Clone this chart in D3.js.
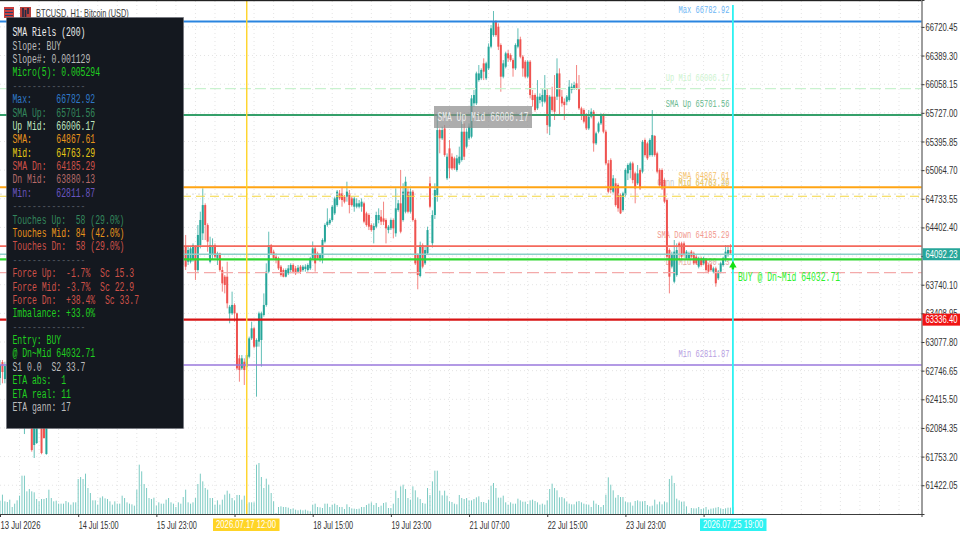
<!DOCTYPE html>
<html>
<head>
<meta charset="utf-8">
<script src="https://cdnjs.cloudflare.com/ajax/libs/d3/7.8.5/d3.min.js"></script>
<style>
html,body{margin:0;padding:0;background:#fff;}
svg{display:block;}
text{white-space:pre;}
</style>
</head>
<body>
<div id="chart"></div>
<script>
//y axis labels, 64071.25 sits behind the bid tag
var priceTicks = [66720.45,66389.30,66058.15,65727.00,65395.85,65064.70,64733.55,64402.40,64071.25,63740.10,63408.95,63077.80,62746.65,62415.50,62084.35,61753.20,61422.05];
//x axis: bar number (hours from 13 Jul 07:00) and the label shown, two are behind the time tags
var timeTickBars = [0,32,64,96,128,160,192,224,256,288];
var timeTickLabels = ["13 Jul 2026","14 Jul 15:00","15 Jul 23:00","","18 Jul 15:00","19 Jul 23:00","21 Jul 07:00","22 Jul 15:00","23 Jul 23:00",""];

//bars that can be seen, the rest sit behind the info panel
var barIndex = [0,1,2,10,13,14,15,17,18,19].concat(d3.range(75,301));
//open, close, high, low
var ohlc = [
[62661,62812,62870,62580],[62846,62731,62870,62600],[62650,62800,62850,62600],
[62150,62300,62400,62014],[62100,61829,62200,61810],[61887,62100,62200,61737],[61910,62100,62200,61900],[62100,61794,62200,61780],[62100,61968,62200,61960],[61783,62100,62200,61775],
[64026,64141,64199,63968],[64180,63949,64315,63910],[64006,64141,64180,63968],[64006,64160,64187,63987],[64026,64199,64218,64006],
[64180,63910,64199,63795],[63910,64315,64430,63891],[64199,64488,64584,64160],[64334,64661,64854,64257],[64661,64430,64681,64257],
[64430,64238,64450,64122],[64006,64199,64295,63987],[64083,64199,64276,64026],[64199,64064,64218,64045],[64045,64103,64122,63968],
[64103,63910,64110,63891],[63910,63756,63949,63660],[63833,63737,63852,63640],[63833,63525,64006,63467],[63409,63486,63506,63294],
[63409,63506,63660,63390],[63506,63409,63525,63313],[63409,62773,63417,62754],[62889,62754,62927,62619],[62773,62889,62927,62754],
[62850,62754,62889,62581],[62793,62927,62947,62773],[62908,63120,63140,62889],[63120,63236,63313,63101],[63236,63024,63255,63005],
[63024,63101,63120,62446],[63082,63409,63429,63024],[63101,63409,63429,62793],[63390,63506,63640,63371],[63506,63891,63987,63486],
[63891,64199,64353,63872],[64199,64103,64211,64083],[64122,64045,64141,64026],[64064,64026,64103,63987],[64045,63929,64064,63910],
[63949,63852,63968,63833],[63910,63833,63929,63825],[63833,63910,63929,63825],[63872,63929,63968,63852],[63910,63968,63987,63872],
[63968,63891,63987,63872],[63929,63872,63956,63852],[63891,63937,63968,63872],[63949,63891,63968,63864],[63910,63949,63968,63891],
[63922,63949,63976,63891],[63910,63968,63987,63891],[63929,64045,64064,63910],[64045,64160,64238,64026],[64160,63987,64180,63891],
[64103,64045,64122,64026],[64045,64083,64103,64006],[64045,64257,64276,63987],[64238,64430,64450,64218],[64430,64469,64623,64411],
[64450,64488,64507,64430],[64488,64642,64661,64469],[64565,64738,64758,64546],[64661,64816,64835,64642],[64796,64738,64835,64719],
[64796,64719,64873,64642],[64758,64700,64777,64681],[64758,64816,64931,64700],[64796,64661,64835,64565],[64738,64661,64758,64642],
[64642,64738,64758,64584],[64642,64681,64738,64623],[64642,64681,64719,64623],[64642,64700,64738,64584],[64681,64469,64700,64450],
[64565,64430,64584,64411],[64546,64411,64565,64372],[64430,64372,64450,64353],[64372,64419,64450,64218],[64411,64546,64584,64392],
[64488,64546,64623,64450],[64527,64469,64604,64430],[64507,64469,64700,64430],[64488,64392,64507,64218],[64372,64411,64430,64334],
[64392,64488,64507,64372],[64488,64392,64507,64276],[64334,64623,64854,64295],[64604,64681,64719,64584],[64681,64353,65066,64334],
[64488,64816,64912,64469],[64584,64931,64989,64565],[64816,64584,64854,64565],[64584,64816,64854,64565],[64816,64488,64835,64469],
[64488,63987,64507,63968],[64083,63852,64103,63687],[63841,64199,64238,63825],[64199,63949,64218,63929],[63987,64141,64199,63968],
[64103,64372,64411,64083],[64912,64642,64989,64623],[64220,64546,64600,64170],[64546,64835,64912,64500],[64777,65528,65700,64700],
[65528,65432,65547,65259],[65432,65528,65567,65413],[65547,65240,65586,65220],[64970,65220,65259,64950],[65316,65085,65413,64970],
[65220,65085,65259,65066],[65201,65085,65220,65066],[65066,65201,65240,65047],[65143,65220,65336,65124],[65182,65509,65625,65163],
[65509,65220,65605,65182],[65336,65509,65547,65316],[65432,65567,65605,65413],[65451,65894,65933,65432],[65837,65933,65991,65798],
[65837,66183,66203,65817],[66106,66183,66280,66087],[66126,66222,66241,66106],[66299,66203,66357,66106],[66126,66299,66318,66106],
[66241,66492,66530,66222],[66492,66704,66742,66473],[66626,66781,66904,66607],[66781,66626,66800,66607],[66723,66492,66761,66453],
[66511,66145,66530,65971],[66145,66299,66337,66126],[66260,66415,66434,66241],[66415,66357,66453,66318],[66395,66337,66415,66318],
[66337,66241,66357,66145],[66241,66511,66530,66222],[66492,66577,66704,66473],[66577,66376,66607,66357],[66376,66241,66395,66145],
[66318,66145,66337,66126],[66145,66318,66337,66126],[66318,65933,66337,65894],[65933,65875,65991,65798],[65933,65760,65952,65740],
[65779,65914,66106,65760],[65875,65914,65952,65837],[65856,65933,66010,65798],[65856,65991,66164,65837],[65933,65586,66010,65490],
[65567,65914,65933,65470],[65914,65760,66029,65740],[65914,65740,66164,65644],[65914,66183,66357,65875],[66183,65914,66241,65702],
[65914,65837,65991,65798],[65856,65817,65894,65644],[65856,65914,65933,65817],[65875,66029,66106,65856],[65991,66029,66068,65952],
[66010,66049,66087,65991],[66068,66010,66280,65991],[66010,65779,66164,65760],[65779,65702,65798,65644],[65760,65625,65779,65605],
[65702,65547,65721,65528],[65547,65682,65760,65528],[65682,65740,65779,65663],[65740,65374,65760,65278],[65374,65490,65509,65355],
[65509,65605,65625,65490],[65605,65702,65721,65586],[65702,65509,65721,65490],[65509,65143,65528,65124],[65143,64815,65182,64796],
[65181,64835,65201,64796],[64815,64970,65008,64796],[64912,64661,64970,64642],[64893,64623,64912,64584],[64777,64565,64796,64557],
[64603,64796,64815,64584],[64777,65066,65085,64758],[65027,65124,65143,64950],[65066,65143,65163,64970],[65143,64950,65163,64912],
[65027,64854,65047,64681],[64912,65027,65124,64893],[65066,64854,65085,64835],[65047,65393,65413,65027],[65413,65239,65432,65220],
[65374,65201,65393,65181],[65239,65413,65432,65220],[65239,65470,65759,65220],[65459,65239,65470,65220],[65259,65047,65278,65027],
[65066,64893,65085,64873],[65066,64854,65085,64835],[64950,64700,64970,64681],[64719,64064,64738,64045],[64141,63833,64160,63640],
[63949,64083,64122,63929],[63775,64122,64257,63756],[63852,64141,64218,63833],[64218,64180,64237,64026],[64218,64064,64237,64045],
[64218,64083,64237,64064],[64045,64122,64141,64026],[64045,64103,64122,64026],[64122,64064,64141,64045],[64103,63987,64122,63968],
[64064,63987,64083,63968],[63949,64045,64064,63929],[64045,63968,64064,63949],[63987,64045,64064,63968],[64026,63910,64045,63891],
[63968,63891,63987,63871],[63968,63910,63987,63891],[63891,63929,63949,63871],[63929,63756,63949,63717],[63814,63891,63910,63794],
[63891,63987,64006,63871],[63968,64045,64064,63949],[64026,64122,64199,64006],[64083,64141,64199,64064],[64141,64103,64209,64083],
[64070,64092,64209,64060]
];

//tick volume per bar, hourly from 13 Jul 07:00
var volumes = [40,
58,38,36,43,21,31,41,55,115,115,68,75,68,65,45,38,45,45,48,73,48,38,40,31,31,31,39,35,28,35,35,105,111,105,121,78,63,41,41,28,49,53,47,45,38,28,38,31,31,55,48,35,31,29,25,73,148,128,90,78,48,45,49,25,35,31,31,43,48,35,31,21,35,31,51,73,35,31,35,48,90,121,98,78,73,48,48,28,41,28,43,58,70,61,48,41,57,57,43,55,30,35,35,35,148,153,111,78,106,88,63,38,3,21,23,21,21,19,15,17,13,11,13,11,13,10,8,28,31,21,
20,
18,31,31,21,28,31,27,21,21,15,29,21,17,16,15,16,21,21,27,31,35,27,33,21,25,33,35,18,18,31,70,48,83,88,75,48,43,83,71,50,45,33,31,78,57,98,130,130,70,56,70,55,38,36,31,29,57,48,45,48,41,41,45,50,53,36,36,33,43,85,93,78,49,49,55,35,28,35,31,31,46,41,37,37,30,41,43,39,35,28,31,28,41,75,91,78,71,50,51,47,37,31,29,29,37,39,35,31,29,28,21,40,31,27,21,27,58,110,88,71,49,57,51,51,37,35,35,25,39,41,
38,
38,39,27,23,25,43,29,37,29,37,35,105,115,93,46,41,37,37,23,3,18,17,17,21,15,17,21,13,16,17,19,21,17,15,17,19,19,21];

//horizontal levels
var levelNames = ["Max","Up Mid","SMA Up","SMA","Gann","Mid","SMA Dn","Bid","Entry","Dn Mid","Ask","Min"];
var levelValues = [66782.92,66006.17,65701.56,64867.61,64787.46,64763.29,64185.29,64092.23,64032.71,63880.13,63336.40,62811.87];
var levelColors = ["#2a85e0","#c9f2cf","#35a06a","#ffa514","#dcdcdc","#f4d640","#f4695c","#8ccfc8","#2fd62f","#f4aaaa","#d81414","#9a78dc"];
var levelWidths = [1.9,1.2,1.9,2,1,1.1,1.8,1.3,2.2,1.2,2.2,1.7];
var levelDash = [null,"11,4",null,null,"2,4","9,5",null,null,null,"12,5",null,null];

//labels written on the chart, right end at the cyan line
var chartLabels = ["Max 66782.92","Up Mid 66006.17","SMA Up 65701.56","Gann Mid 64787.46","SMA 64867.61","Mid 64763.29","SMA Down 64185.29","Dn Mid 63880.13","Min 62811.87"];
var chartLabelPrices = [66782.92,66006.17,65701.56,64787.46,64867.61,64787.46,64185.29,63880.13,62811.87];
var chartLabelColors = ["#6db6f5","#cdf3cf","#6ab98f","#c8c8c8","#f5c26a","#f5cf5e","#f29a8e","#e6a8a0","#b7a0e2"];

//info panel
var panelLines = ["SMA Riels (200)","Slope: BUY","Slope#: 0.001129","Micro(5): 0.005294","---------------",
"Max:     66782.92","SMA Up:  65701.56","Up Mid:  66006.17","SMA:     64867.61","Mid:     64763.29","SMA Dn:  64185.29","Dn Mid:  63880.13","Min:     62811.87","---------------",
"Touches Up:  58 (29.0%)","Touches Mid: 84 (42.0%)","Touches Dn:  58 (29.0%)","---------------",
"Force Up:  -1.7%  Sc 15.3","Force Mid: -3.7%  Sc 22.9","Force Dn:  +38.4%  Sc 33.7","Imbalance: +33.0%","---------------",
"Entry: BUY","@ Dn~Mid 64032.71","S1 0.0  S2 33.7","ETA abs:  1","ETA real: 11","ETA gann: 17"];
var panelColors = ["#eeeeee","#bcbcbc","#bcbcbc","#20d020","#4b505a",
"#2f78c8","#33875c","#bfe6bf","#e8941c","#e6c814","#cf5148","#b56a68","#6a55c0","#4b505a",
"#33875c","#e8941c","#cf5148","#4b505a",
"#cf5148","#cf5148","#cf5148","#20d020","#4b505a",
"#20d020","#20d020","#bcbcbc","#20d020","#20d020","#bcbcbc"];

var width = 960, height = 534, plotRight = 921.5, plotBottom = 514;
var upColor = "#26a69a", downColor = "#ef5350";
var monoFont = "'Liberation Mono', monospace", sansFont = "'Liberation Sans', sans-serif";

var svg = d3.select("#chart").append("svg").attr("width", width).attr("height", height);
svg.append("rect").attr("width", width).attr("height", height).attr("fill", "#fff");

var x = d3.scaleLinear().domain([0, plotRight/2.443]).range([0, plotRight]);
var y = d3.scaleLinear().domain([67031.4, 61089.6]).range([0, plotBottom]);
var vol = d3.scaleLinear().domain([0, 153]).range([plotBottom, plotBottom-51]);

//squeeze text into the narrow widths of the terminal font
function squeezeTo(node, w) {
	var full = node.getComputedTextLength();
	if (!full) return;
	var s = w/full, tx = +(node.getAttribute("x") || 0);
	node.setAttribute("transform", "translate(" + tx*(1-s) + ",0) scale(" + s + ",1)");
}
function squeeze(sel, charW) {
	sel.each(function() { squeezeTo(this, this.textContent.length*charW); });
}
function squeezeWidth(sel, w) {
	sel.each(function() { squeezeTo(this, w); });
}

//grid, every 8 bars and at every price label
var grid = svg.append("g").attr("stroke", "#e4e4e4").attr("stroke-width", 1).attr("stroke-dasharray", "1,3");
grid.selectAll("line.v").data(d3.range(8, 377, 8)).enter().append("line").attr("class", "v")
	.attr("x1", function(d) { return x(d); }).attr("x2", function(d) { return x(d); })
	.attr("y1", 1).attr("y2", plotBottom);
grid.selectAll("line.h").data(priceTicks).enter().append("line").attr("class", "h")
	.attr("x1", 0).attr("x2", plotRight)
	.attr("y1", function(d) { return y(d); }).attr("y2", function(d) { return y(d); });

//volume
svg.append("g").selectAll("line").data(volumes).enter().append("line")
	.attr("x1", function(d, i) { return x(i); }).attr("x2", function(d, i) { return x(i); })
	.attr("y1", plotBottom).attr("y2", function(d) { return vol(d); })
	.attr("stroke", "#7ccbc3").attr("stroke-width", 1);

//labels under the candles
var labels = svg.append("g").attr("font-family", monoFont).attr("font-size", 10.5).attr("text-anchor", "end");
labels.selectAll("text").data(chartLabels).enter().append("text")
	.attr("x", x(300)-3.5)
	.attr("y", function(d, i) { return y(chartLabelPrices[i])-8; })
	.attr("fill", function(d, i) { return chartLabelColors[i]; })
	.text(function(d) { return d; })
	.call(squeeze, 4.25);

//candles
var candles = svg.append("g").selectAll("g").data(ohlc).enter().append("g")
	.attr("fill", function(d) { return d[1] >= d[0] ? upColor : downColor; })
	.attr("stroke", function(d) { return d[1] >= d[0] ? upColor : downColor; });
candles.append("line")
	.attr("x1", function(d, i) { return x(barIndex[i]); }).attr("x2", function(d, i) { return x(barIndex[i]); })
	.attr("y1", function(d) { return y(d[2]); }).attr("y2", function(d) { return y(d[3]); })
	.attr("stroke-width", 0.9).attr("stroke-opacity", 0.8);
candles.append("rect")
	.attr("stroke", "none")
	.attr("x", function(d, i) { return x(barIndex[i])-1; })
	.attr("width", 2)
	.attr("y", function(d) { return y(Math.max(d[0], d[1])); })
	.attr("height", function(d) { return Math.abs(y(d[0])-y(d[1])); });

//levels
svg.append("g").selectAll("line").data(levelValues).enter().append("line")
	.attr("x1", 0).attr("x2", plotRight)
	.attr("y1", function(d) { return y(d); }).attr("y2", function(d) { return y(d); })
	.attr("stroke", function(d, i) { return levelColors[i]; })
	.attr("stroke-width", function(d, i) { return levelWidths[i]; })
	.attr("stroke-dasharray", function(d, i) { return levelDash[i]; });

//crosshair lines
svg.append("line").attr("x1", x(101)).attr("x2", x(101)).attr("y1", 0).attr("y2", plotBottom)
	.attr("stroke", "#ffd426").attr("stroke-width", 1.4);
svg.append("line").attr("x1", x(300)).attr("x2", x(300)).attr("y1", 5).attr("y2", plotBottom)
	.attr("stroke", "#2df2f2").attr("stroke-width", 1.8);

//the grey box with the level name
svg.append("rect").attr("x", 434).attr("y", 106).attr("width", 98).attr("height", 22).attr("fill", "#8a8a8a").attr("fill-opacity", 0.7);
svg.append("text").attr("x", 483).attr("y", 121.5).attr("text-anchor", "middle")
	.attr("font-family", monoFont).attr("font-size", 12).attr("fill", "#ececec")
	.text("SMA Up Mid 66006.17").call(squeeze, 4.8);

//buy arrow and text
var buy = svg.append("g").attr("fill", "#14e014").attr("transform", "translate(" + x(300) + "," + (y(64032.71)+6) + ")");
buy.append("path").attr("d", d3.symbol().type(d3.symbolTriangle).size(24)());
buy.append("rect").attr("x", -1.2).attr("y", 0).attr("width", 2.4).attr("height", 4);
svg.append("text").attr("x", 738).attr("y", 281.5).attr("font-family", monoFont).attr("font-size", 12)
	.attr("fill", "#2cf02c").text("BUY @ Dn~Mid 64032.71").call(squeeze, 4.87);

//axes
var yAxis = svg.append("g").attr("transform", "translate(" + plotRight + ",0)")
	.call(d3.axisRight(y).tickValues(priceTicks).tickFormat(function(d) { return d === 64071.25 ? "" : d.toFixed(2); }).tickSize(3).tickPadding(1));
var xAxis = svg.append("g").attr("transform", "translate(0," + plotBottom + ")")
	.call(d3.axisBottom(x).tickValues(timeTickBars).tickFormat(function(d, i) { return timeTickLabels[i]; }).tickSize(3).tickPadding(4));
[yAxis, xAxis].forEach(function(ax) {
	ax.attr("font-family", sansFont).attr("font-size", 11);
	ax.select(".domain").attr("stroke", "#3c3c3c");
	ax.selectAll(".tick line").attr("stroke", "#3c3c3c");
	ax.selectAll("text").attr("fill", "#333");
});
yAxis.selectAll("text").call(squeezeWidth, 32);
xAxis.selectAll("text").attr("text-anchor", "start").call(squeezeWidth, 40);

//price tags on the axis
[[64092.23, "#26a69a"], [63336.40, "#f01414"]].forEach(function(t) {
	svg.append("rect").attr("x", plotRight+1).attr("y", y(t[0])-6).attr("width", width-plotRight).attr("height", 12).attr("fill", t[1]);
	svg.append("text").attr("x", 925.5).attr("y", y(t[0])+3.8).attr("font-family", sansFont).attr("font-size", 11)
		.attr("fill", "#fff").text(t[0].toFixed(2)).call(squeezeWidth, 32);
});

//time tags
[[101, "2026.07.17 12:00", "#ffd426", 213], [300, "2026.07.25 19:00", "#2df2f2", 700]].forEach(function(t) {
	svg.append("rect").attr("x", t[3]).attr("y", 518.5).attr("width", 66.5).attr("height", 12.5).attr("fill", t[2]);
	svg.append("text").attr("x", t[3]+33).attr("y", 528.5).attr("text-anchor", "middle").attr("font-family", sansFont).attr("font-size", 11)
		.attr("fill", "#fff").text(t[1]).call(squeezeWidth, 60);
});

//top edge, icons and title
svg.append("rect").attr("width", plotRight).attr("height", 1.2).attr("fill", "#222");
svg.append("rect").attr("x", 4).attr("y", 7).attr("width", 10).attr("height", 11).attr("fill", "#c9403f");
svg.append("g").selectAll("rect").data([9, 12, 15]).enter().append("rect")
	.attr("x", 5).attr("y", function(d) { return d; }).attr("width", 8).attr("height", 1).attr("fill", "#27406e");
svg.append("rect").attr("x", 20).attr("y", 7).attr("width", 11).attr("height", 11).attr("fill", "#b8403c");
svg.append("path").attr("d", "M23,8V17M28,8V14M25.5,10V17").attr("stroke", "#1d2a44").attr("stroke-width", 1.6).attr("fill", "none");
svg.append("text").attr("x", 36).attr("y", 17).attr("font-family", sansFont).attr("font-size", 11.5).attr("fill", "#3a3a3a")
	.text("BTCUSD, H1: Bitcoin (USD)").call(squeezeWidth, 93);

//panel on top of everything
svg.append("rect").attr("x", 6.5).attr("y", 17.5).attr("width", 177).attr("height", 411)
	.attr("fill", "#14181f").attr("stroke", "#6e727a").attr("stroke-width", 0.6);
svg.append("g").attr("font-family", monoFont).attr("font-size", 12)
	.selectAll("text").data(panelLines).enter().append("text")
	.attr("x", 12.5)
	.attr("y", function(d, i) { return 36.3 + i*13.38; })
	.attr("fill", function(d, i) { return panelColors[i]; })
	.text(function(d) { return d; })
	.call(squeeze, 4.87);
</script>
</body>
</html>
